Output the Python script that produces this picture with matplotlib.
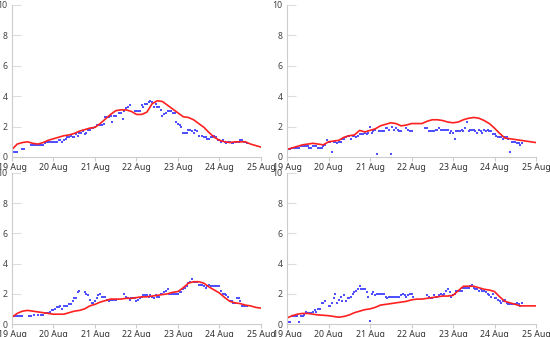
import numpy as np
import matplotlib
matplotlib.use("Agg")
import matplotlib.pyplot as plt

nan = np.nan

day_labels = ["19 Aug", "20 Aug", "21 Aug", "22 Aug", "23 Aug", "24 Aug", "25 Aug"]
y_ticks = [0, 2, 4, 6, 8, 10]

# hourly observations (blue dots), hour 0 = 19 Aug 00:00
obs_1 = [0.4, 0.3, 0.3, 0.3, nan, nan, 0.5, 0.5, nan, nan, nan, 0.8, 0.8, 0.8, 0.8, 0.8, 0.8, 0.8, 0.8, 0.9, 1.0, 1.0, 1.0, 1.0,
         1.0, 1.0, 1.0, 1.1, 1.1, 1.0, 1.1, 1.2, 1.3, 1.3, 1.4, 1.3, 1.3, 1.5, 1.4, 1.6, 1.6, 1.7, 1.5, 1.6, 1.8, 1.8, 1.9, 1.9,
         2.0, 2.1, 2.1, 2.1, 2.1, 2.2, 2.6, 2.6, 2.6, 2.7, 2.3, 2.7, 2.7, nan, 2.9, 2.9, 2.5, 3.0, 3.2, 3.3, 3.4, nan, nan, 3.0,
         3.0, 3.0, 3.0, 3.4, 3.3, 3.5, 3.5, 3.6, 3.7, 3.6, 3.3, 3.5, 3.3, 3.3, 3.1, 2.7, 2.8, 2.9, 3.0, 3.0, 3.0, 2.9, 2.9, 2.3,
         2.2, 2.1, 2.0, 1.6, 1.6, 1.6, 1.8, 1.8, 1.7, 1.6, 1.8, 1.7, 1.4, nan, 1.4, 1.3, 1.3, 1.2, 1.2, 1.3, 1.3, 1.4, 1.3, 1.1,
         1.1, 1.0, 1.1, 1.0, 0.9, 1.0, 1.0, 0.9, 0.9, 1.0, 1.0, 1.0, 1.1, 1.1, 1.0, 1.0, 0.9]
obs_2 = [0.1, 0.5, 0.5, 0.6, 0.6, 0.6, 0.6, 0.6, 0.7, 0.7, 0.7, 0.7, 0.7, 0.6, 0.6, 0.7, 0.7, 0.7, 0.6, 0.6, 0.6, 0.7, 0.8, 1.1,
         1.0, 1.0, 0.3, 1.0, 1.0, 0.9, 1.0, 1.0, 1.2, 1.2, 1.3, 1.4, 1.4, 1.2, 1.4, 1.4, 1.3, 1.4, 1.5, 1.5, 1.5, 1.6, 1.5, 1.6,
         2.0, 1.6, 1.7, 1.8, 0.2, 1.7, 1.7, 1.7, 1.7, 1.9, 1.9, 1.8, 0.2, 2.0, 1.8, 1.9, 1.8, 1.7, 1.7, nan, nan, 1.9, 1.8, 1.7,
         1.7, nan, nan, nan, nan, nan, nan, nan, 1.9, 1.9, 1.7, 1.7, 1.7, 1.7, 1.8, 1.8, 1.9, 1.8, 1.8, 1.8, 1.8, 1.8, 1.6, 1.7,
         1.6, 1.2, 1.7, 1.7, 1.7, 1.8, 1.7, 1.9, 2.3, 1.7, 1.8, 1.8, 1.8, 1.7, 1.6, 1.8, 1.7, 1.6, 1.8, 1.7, 1.8, 1.7, 1.7, 1.5,
         1.5, 1.4, 1.3, 1.3, 1.3, 1.2, 1.3, 1.3, 1.2, 0.3, 1.0, 1.0, 1.0, 0.9, 0.9, 0.8, 0.9]
obs_3 = [0.5, 0.5, 0.5, 0.5, 0.5, 0.5, 0.5, nan, nan, nan, 0.5, 0.5, nan, 0.6, nan, 0.6, nan, 0.6, 0.6, 0.7, 0.7, 0.7, 0.8, 0.9,
         0.9, 1.0, 1.1, 1.1, 1.2, 1.0, 1.2, 1.2, 1.2, 1.3, 1.3, 1.5, 1.7, 1.7, 2.1, 2.2, nan, nan, 2.1, 2.0, 1.9, 1.6, 1.4, 1.4,
         1.5, 1.7, 1.9, 2.0, 1.8, 1.8, 1.8, 1.6, 1.5, 1.6, 1.6, 1.6, 1.6, nan, nan, nan, nan, 2.0, 1.8, 1.7, 1.6, 1.7, 1.7, 1.7,
         1.5, 1.6, 1.7, 1.8, 1.9, 1.9, 1.9, 1.8, 1.9, 1.8, 1.7, 1.9, 1.8, 1.8, 2.0, 2.0, 2.1, 2.2, 2.3, 2.0, 2.0, 2.0, 2.0, 2.0,
         2.0, 2.1, 2.1, 2.3, 2.4, 2.5, 2.7, 2.8, 3.0, 2.8, 2.8, 2.8, 2.6, 2.6, 2.6, 2.5, 2.4, 2.5, 2.6, 2.5, 2.5, 2.5, 2.5, 2.5,
         2.5, 2.2, 2.0, 2.0, 1.9, 1.8, 1.5, 1.5, 1.4, 1.4, 1.7, 1.7, 1.5, 1.2, 1.2, 1.2, 1.2]
obs_4 = [0.5, 0.1, 0.1, 0.5, 0.5, 0.5, 0.5, 0.1, 0.5, 0.5, 0.6, 0.8, 0.7, 0.7, 0.7, 0.8, 0.9, 0.8, 1.0, 1.0, 1.4, 1.4, 1.5, nan,
         1.2, 1.2, 1.4, 1.7, 2.0, 1.4, 1.6, 1.8, 1.5, 1.9, 1.5, 1.7, 1.7, 1.8, 2.0, 2.1, 2.2, 2.3, 2.5, 2.3, 2.3, 2.3, 2.1, 1.8,
         0.2, 2.0, 2.1, 1.9, 2.0, 2.0, 2.0, 2.0, 2.0, 1.8, 1.7, 1.8, 1.8, 1.8, 1.8, 1.8, 1.8, 1.8, 1.9, 2.0, 1.9, 1.8, 1.9, 2.0,
         2.0, 1.8, nan, nan, nan, nan, nan, nan, nan, 1.9, 1.8, 1.7, 1.7, 1.9, 1.8, 1.8, 1.9, 2.0, 1.9, 2.0, 2.2, 2.3, 2.1, 1.8,
         1.9, 2.0, 2.2, 2.2, 2.2, 2.2, 2.4, 2.4, 2.4, 2.4, 2.5, 2.6, 2.4, 2.3, 2.3, 2.2, 2.3, 2.2, 2.2, 2.1, 2.0, 1.9, 1.8, 2.0,
         1.7, 1.7, 1.6, 1.5, 1.4, 1.5, 1.6, 1.4, 1.3, 1.3, 1.3, 1.3, 1.3, 1.4, 1.3, 1.2, 1.4]

# model curve (red), every 3 hours
model_1 = [0.5, 0.85, 0.95, 1.0, 0.9, 0.85, 0.95, 1.1, 1.2, 1.3, 1.4, 1.45, 1.55, 1.7, 1.8, 1.9, 1.95,
           2.2, 2.5, 2.8, 3.05, 3.1, 3.1, 3.0, 2.8, 2.8, 2.95, 3.5, 3.7, 3.65, 3.4, 3.15, 2.9,
           2.65, 2.6, 2.45, 2.2, 1.95, 1.6, 1.3, 1.1, 1.0, 0.95, 1.0, 1.0, 1.0, 0.85, 0.75, 0.65]
model_2 = [0.5, 0.6, 0.7, 0.8, 0.85, 0.9, 0.85, 0.8, 1.0, 1.05, 1.1, 1.3, 1.4, 1.45, 1.75, 1.65, 1.75,
           1.85, 2.05, 2.15, 2.25, 2.2, 2.05, 2.1, 2.2, 2.2, 2.2, 2.35, 2.45, 2.45, 2.4, 2.3, 2.25,
           2.3, 2.45, 2.55, 2.6, 2.55, 2.4, 2.2, 1.9, 1.55, 1.25, 1.2, 1.15, 1.1, 1.05, 1.0, 0.95]
model_3 = [0.45, 0.7, 0.85, 0.9, 0.85, 0.8, 0.75, 0.7, 0.65, 0.65, 0.65, 0.75, 0.85, 0.9, 1.0, 1.2, 1.3,
           1.45, 1.55, 1.65, 1.65, 1.65, 1.7, 1.7, 1.75, 1.8, 1.8, 1.85, 1.9, 1.95, 2.0, 2.1, 2.15,
           2.4, 2.7, 2.8, 2.8, 2.7, 2.45, 2.25, 2.05, 1.75, 1.5, 1.4, 1.35, 1.25, 1.2, 1.1, 1.05]
model_4 = [0.4, 0.55, 0.65, 0.7, 0.7, 0.65, 0.6, 0.58, 0.55, 0.5, 0.45, 0.5, 0.6, 0.75, 0.85, 0.95, 1.0,
           1.1, 1.25, 1.3, 1.35, 1.4, 1.45, 1.5, 1.6, 1.65, 1.65, 1.7, 1.75, 1.8, 1.85, 1.85, 1.9,
           2.2, 2.5, 2.5, 2.5, 2.4, 2.3, 2.25, 2.15, 1.8, 1.5, 1.4, 1.3, 1.2, 1.2, 1.2, 1.2]

plt.rcParams['font.family'] = ['Noto Sans', 'DejaVu Sans']

fig = plt.figure(figsize=(5.5, 3.37), dpi=100)

# axes boxes in pixels: (left, top, right, bottom)
boxes = [(12, 5, 261, 157), (287, 5, 536, 157), (12, 173, 261, 324), (287, 173, 536, 324)]
panels = [(obs_1, model_1), (obs_2, model_2), (obs_3, model_3), (obs_4, model_4)]

W, H = 550, 337
for (l, t, r, b), (obs, model) in zip(boxes, panels):
    ax = fig.add_axes([l / W, (H - b) / H, (r - l) / W, (b - t) / H])
    obs_x = np.arange(len(obs)) / 24.0
    model_x = np.arange(len(model)) * 3 / 24.0
    ax.plot(obs_x, obs, linestyle='none', marker='s', markersize=1.7,
            color='#5050ff', markeredgewidth=0)
    ax.plot(model_x, model, color='#ff2020', linewidth=1.2)
    ax.set_xlim(0, 6)
    ax.set_ylim(0, 10)
    ax.set_xticks(range(7))
    ax.set_xticklabels(day_labels)
    ax.set_yticks(y_ticks)
    for side in ['top', 'right']:
        ax.spines[side].set_visible(False)
    for side in ['left', 'bottom']:
        ax.spines[side].set_color('#cccccc')
        ax.spines[side].set_linewidth(0.8)
    ax.tick_params(axis='y', direction='in', length=6.5, width=0.8, color='#dddddd',
                   labelsize=6.3, labelcolor='#444444', pad=3)
    ax.tick_params(axis='x', direction='out', length=3, width=0.8, color='#cccccc',
                   labelsize=6.3, labelcolor='#333333', pad=1)

fig.savefig("out.png", dpi=100)
